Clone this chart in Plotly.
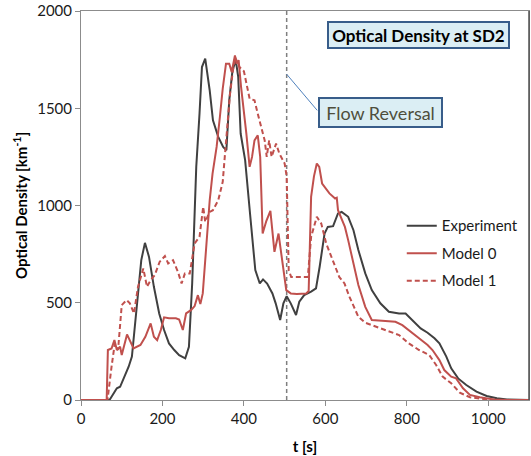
import plotly.graph_objects as go

# ---- data ----
t_exp = [0, 70, 75, 88, 96, 105, 117, 125, 134, 142, 148, 157, 167, 179, 192, 204, 216, 229, 241, 256,
         265, 273, 283, 291, 297, 305, 316, 324, 337, 349, 357, 364, 372, 380, 386, 392, 403, 415, 428, 439,
         447, 457, 470, 478, 489, 497, 505, 515, 528, 536, 548, 565, 577, 586, 598, 606, 619, 631, 640, 656,
         669, 681, 698, 714, 735, 756, 781, 797, 814, 834, 851, 868, 880, 897, 909, 926, 946, 971, 996, 1021,
         1046, 1096, 1100]
v_exp = [0, 0, 17, 60, 68, 111, 171, 223, 428, 600, 719, 808, 736, 582, 445, 360, 291, 257, 231, 214,
         274, 600, 1199, 1473, 1712, 1755, 1592, 1438, 1353, 1301, 1284, 1541, 1695, 1747, 1661, 1370, 1233, 959, 668, 599,
         620, 599, 548, 497, 411, 497, 534, 497, 437, 505, 539, 557, 574, 685, 856, 890, 894, 959, 967, 942,
         873, 771, 651, 565, 497, 454, 445, 445, 411, 368, 346, 317, 291, 223, 163, 111, 77, 43, 21, 9,
         3, 0, 0]

t_m0 = [0, 63, 66, 75, 82, 88, 96, 100, 113, 121, 129, 146, 158, 171, 179, 187, 196, 204, 216, 233,
        241, 250, 258, 270, 279, 287, 293, 299, 308, 316, 323, 333, 341, 348, 356, 364, 370, 374, 378, 382,
        387, 393, 399, 406, 414, 420, 426, 434, 440, 446, 455, 465, 475, 485, 495, 504, 515, 530, 553, 559,
        565, 572, 579, 585, 592, 610, 624, 628, 631, 640, 648, 656, 669, 681, 698, 714, 739, 772, 789, 805,
        830, 851, 863, 880, 892, 909, 921, 938, 955, 979, 1013, 1046, 1100]
v_m0 = [0, 0, 257, 265, 308, 257, 274, 231, 337, 300, 265, 283, 325, 394, 325, 308, 360, 425, 420, 420,
        414, 360, 445, 462, 483, 539, 493, 548, 788, 1027, 1164, 1301, 1455, 1601, 1729, 1729, 1687, 1738, 1772, 1729,
        1747, 1610, 1507, 1370, 1199, 1250, 1335, 1361, 1250, 856, 920, 972, 762, 856, 702, 565, 548, 545, 548, 560,
        1044, 1150, 1216, 1199, 1113, 1062, 1036, 1040, 976, 925, 890, 822, 702, 591, 479, 411, 408, 402, 385, 360,
        317, 283, 257, 205, 154, 120, 111, 60, 26, 14, 3, 0, 0]

t_m1 = [0, 65, 75, 83, 91, 100, 112, 120, 130, 140, 153, 162, 171, 181, 193, 206, 214, 226, 238, 247,
        255, 267, 279, 291, 300, 305, 316, 324, 337, 348, 353, 359, 366, 372, 378, 389, 400, 414, 426, 434,
        442, 451, 456, 462, 468, 479, 487, 500, 505, 510, 516, 557, 565, 579, 590, 602, 618, 634, 647, 659,
        670, 681, 698, 714, 747, 781, 805, 830, 855, 872, 888, 909, 930, 955, 996, 1029, 1100]
v_m1 = [0, 0, 171, 291, 257, 488, 514, 497, 445, 582, 676, 582, 616, 642, 710, 740, 702, 719, 659, 599,
        650, 650, 805, 839, 993, 916, 967, 976, 1027, 1122, 1250, 1421, 1575, 1678, 1764, 1712, 1690, 1549, 1541, 1472,
        1404, 1335, 1250, 1335, 1250, 1318, 1267, 1216, 1150, 668, 633, 633, 839, 942, 907, 805, 719, 633, 599, 531,
        480, 428, 397, 385, 360, 334, 291, 257, 231, 180, 120, 86, 38, 14, 3, 0, 0]

assert len(t_exp) == len(v_exp) and len(t_m0) == len(v_m0) and len(t_m1) == len(v_m1)

series_names = ["Experiment", "Model 0", "Model 1"]
flow_reversal_t = 505
x_ticks = [0, 200, 400, 600, 800, 1000]
y_ticks = [0, 500, 1000, 1500, 2000]

FONT = "Lato, 'Open Sans', sans-serif"
RED = "#c0504d"
DARK = "#404040"

fig = go.Figure()
fig.add_trace(go.Scatter(x=t_exp, y=v_exp, mode="lines", name=series_names[0], legendgroup="a",
                         line=dict(color=DARK, width=2)))
fig.add_trace(go.Scatter(x=t_m0, y=v_m0, mode="lines", name=series_names[1], legendgroup="b",
                         line=dict(color=RED, width=2)))
fig.add_trace(go.Scatter(x=t_m1, y=v_m1, mode="lines", name=series_names[2], legendgroup="c",
                         line=dict(color=RED, width=2, dash="5px,3px")))

fig.add_shape(type="line", xref="x", yref="y", x0=flow_reversal_t, x1=flow_reversal_t, y0=0, y1=2000,
              line=dict(color="#7f7f7f", width=1.5, dash="4px,3px"), layer="below")
fig.add_shape(type="line", xref="x", yref="y", x0=flow_reversal_t, y0=1675, x1=580, y1=1489,
              line=dict(color="#4f81bd", width=1))
# darker right frame edge
fig.add_shape(type="line", xref="paper", yref="paper", x0=1, x1=1, y0=0, y1=1,
              line=dict(color="#505050", width=1.5))

fig.add_annotation(xref="paper", yref="paper", x=0.753, y=0.9376, showarrow=False,
                   text="<b>Optical Density at SD2</b>", font=dict(family=FONT, size=17, color="#000000"),
                   bgcolor="#dbeef4", bordercolor="#385d8a", borderwidth=2, borderpad=1,
                   width=177, height=22, xanchor="center", yanchor="middle")
fig.add_annotation(xref="paper", yref="paper", x=0.668, y=0.739, showarrow=False,
                   text="Flow Reversal", font=dict(family=FONT, size=18, color="#4e4e3c"),
                   bgcolor="#dbeef4", bordercolor="#385d8a", borderwidth=2, borderpad=1,
                   width=119, height=25, xanchor="center", yanchor="middle")

fig.update_layout(
    width=531, height=456,
    margin=dict(l=81, r=2, t=11, b=56),
    paper_bgcolor="white", plot_bgcolor="white",
    font=dict(family=FONT, size=15, color="#1a1a1a"),
    showlegend=True,
    legend=dict(x=0.716, y=0.49, xanchor="left", yanchor="top", bgcolor="rgba(0,0,0,0)",
                font=dict(family=FONT, size=15, color="#1a1a1a"), tracegroupgap=5,
                itemwidth=30),
)
fig.update_xaxes(range=[0, 1100], tickvals=x_ticks, showgrid=False, zeroline=False,
                 showline=True, linecolor="#8c8c8c", linewidth=1, mirror=True,
                 ticks="outside", ticklen=5, tickcolor="#8c8c8c",
                 tickfont=dict(family=FONT, size=15, color="#1a1a1a"),
                 title=dict(text="<b>t [s]</b>", font=dict(family=FONT, size=15, color="#000000"), standoff=15))
fig.update_yaxes(range=[0, 2000], tickvals=y_ticks, showgrid=False, zeroline=False,
                 showline=True, linecolor="#8c8c8c", linewidth=1, mirror=True,
                 ticks="outside", ticklen=5, tickcolor="#8c8c8c",
                 tickfont=dict(family=FONT, size=15, color="#1a1a1a"),
                 title=dict(text="<b>Optical Density [km<sup>-1</sup>]</b>",
                            font=dict(family=FONT, size=15, color="#000000"), standoff=5))

fig.write_html("out.html")
